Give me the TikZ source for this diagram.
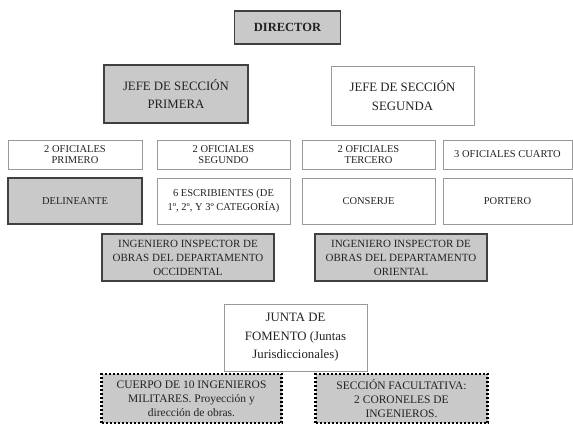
\documentclass[tikz,border=0pt]{standalone}
\usepackage{fontspec}
\setmainfont{Liberation Serif}
\definecolor{boxgray}{HTML}{C9C9C9}
\definecolor{txt}{HTML}{222222}
\begin{document}
\begin{tikzpicture}[x=1pt,y=-1pt,
  base/.style={rectangle, align=center, text=txt, inner sep=1pt, font=\fontsize{10.5}{11.5}\selectfont},
  shaded/.style={base, fill=boxgray, draw=black!75, line width=1.4pt},
  plain/.style={base, fill=white, draw=black!40, line width=0.8pt},
  dotbox/.style={base, fill=boxgray, draw=black, line width=2.2pt, dash pattern=on 2pt off 2pt},
  big/.style={font=\fontsize{12.8}{18.5}\selectfont},
  mid/.style={font=\fontsize{11}{14}\selectfont},
]
\useasboundingbox (0,0) rectangle (573,426);
\node[shaded, minimum width=106pt, minimum height=33pt, font=\bfseries\fontsize{12.5}{14}\selectfont] (dir) at (287.5,27.5) {DIRECTOR};
\node[shaded, big, minimum width=144pt, minimum height=58pt] (j1) at (176,94) {JEFE DE SECCIÓN\\PRIMERA};
\node[plain, big, minimum width=143pt, minimum height=59pt] (j2) at (402.5,95.5) {JEFE DE SECCIÓN\\SEGUNDA};
\node[plain, minimum width=134pt, minimum height=29pt] (o1) at (75,154.5) {2 OFICIALES\\PRIMERO};
\node[plain, minimum width=133pt, minimum height=29pt] (o2) at (223.5,154.5) {2 OFICIALES\\SEGUNDO};
\node[plain, minimum width=133pt, minimum height=29pt] (o3) at (368.5,154.5) {2 OFICIALES\\TERCERO};
\node[plain, minimum width=129pt, minimum height=29pt] (o4) at (507.5,154.5) {3 OFICIALES CUARTO};
\node[shaded, minimum width=134pt, minimum height=46pt] (del) at (75,201) {DELINEANTE};
\node[plain, minimum width=133pt, minimum height=46pt, font=\fontsize{10.5}{14}\selectfont] (esc) at (223.5,201) {6 ESCRIBIENTES (DE\\1º, 2º, Y 3º CATEGORÍA)};
\node[plain, minimum width=133pt, minimum height=46pt] (con) at (368.5,201) {CONSERJE};
\node[plain, minimum width=129pt, minimum height=46pt] (por) at (507.5,201) {PORTERO};
\node[shaded, mid, minimum width=172pt, minimum height=47pt] (ioc) at (188,257.5) {INGENIERO INSPECTOR DE\\OBRAS DEL DEPARTAMENTO\\OCCIDENTAL};
\node[shaded, mid, minimum width=172pt, minimum height=47pt] (ior) at (401,257.5) {INGENIERO INSPECTOR DE\\OBRAS DEL DEPARTAMENTO\\ORIENTAL};
\node[plain, big, minimum width=143pt, minimum height=67pt] (jun) at (295.5,337.5) {JUNTA DE\\FOMENTO (Juntas\\Jurisdiccionales)};
\node[dotbox, minimum width=180pt, minimum height=49pt, font=\fontsize{11.5}{14}\selectfont] (cue) at (191.5,398.5) {CUERPO DE 10 INGENIEROS\\MILITARES. Proyección y\\dirección de obras.};
\node[dotbox, minimum width=172pt, minimum height=49pt, font=\fontsize{11.5}{14}\selectfont] (sec) at (401.5,398.5) {SECCIÓN FACULTATIVA:\\2 CORONELES DE\\INGENIEROS.};
\end{tikzpicture}
\end{document}
